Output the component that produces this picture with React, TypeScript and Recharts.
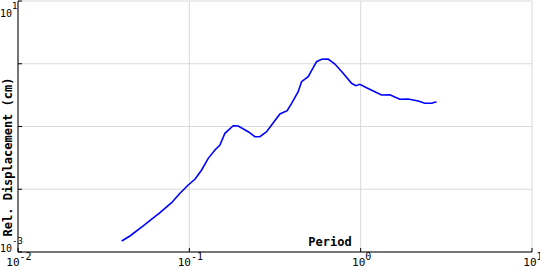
import React from "react";
import { LineChart, Line, XAxis, YAxis, CartesianGrid } from "recharts";

const periods = [
  0.0403, 0.045, 0.0538, 0.0674, 0.0788, 0.0882, 0.0985, 0.1078, 0.118, 0.1289,
  0.1411, 0.1509, 0.1613, 0.1804, 0.1929, 0.2207, 0.2414, 0.2581, 0.2825, 0.3021,
  0.3378, 0.3725, 0.3953, 0.4318, 0.4519, 0.494, 0.553, 0.5912, 0.6461, 0.7072,
  0.7903, 0.885, 0.9376, 0.989, 1.082, 1.21, 1.324, 1.48, 1.693, 1.893,
  2.165, 2.369, 2.593, 2.772,
];
const displacements = [
  0.0015, 0.0018, 0.0026, 0.00423, 0.00611, 0.00862, 0.01169, 0.01441, 0.0203, 0.0311,
  0.0422, 0.0507, 0.0779, 0.103, 0.1019, 0.0826, 0.0688, 0.0688, 0.0826, 0.1057,
  0.1582, 0.1786, 0.2343, 0.3586, 0.5176, 0.6218, 1.078, 1.177, 1.19, 0.991,
  0.7044, 0.4881, 0.4469, 0.4705, 0.4153, 0.3586, 0.3177, 0.3212, 0.2714, 0.2744,
  0.2549, 0.2343, 0.2343, 0.2484,
];
const xTicks = [0.01, 0.1, 1, 10];
const yTicks = [0.001, 0.01, 0.1, 1, 10];
const yLabelled = [0.001, 10];

const data = periods.map((p, i) => ({ period: p, disp: displacements[i] }));

const FONT = "'DejaVu Sans Mono', monospace";

const expOf = (v: number) => Math.round(Math.log10(v));

const XTick = (props: any) => {
  const { x, y, payload } = props;
  const e = expOf(payload.value);
  return (
    <g>
      <line x1={x} y1={y} x2={x} y2={y - 4} stroke="#000" strokeWidth={1} />
      <text x={x + 1} y={y + 14} textAnchor="middle" fontFamily={FONT} fill="#000">
        <tspan fontSize={11}>10</tspan>
        <tspan fontSize={10} dy={-6}>{String(e)}</tspan>
      </text>
    </g>
  );
};

const YTick = (props: any) => {
  const { x, y, payload } = props;
  const v = payload.value;
  const e = expOf(v);
  const show = yLabelled.some((t) => Math.abs(Math.log10(t) - Math.log10(v)) < 1e-6);
  const base = e === 1 ? y + 16 : y;
  return (
    <g>
      <line x1={x} y1={y} x2={x + 4} y2={y} stroke="#000" strokeWidth={1} />
      {show && (
        <text x={0} y={base} textAnchor="start" fontFamily={FONT} fill="#000">
          <tspan fontSize={10}>10</tspan>
          <tspan fontSize={9} dy={-8}>{String(e)}</tspan>
        </text>
      )}
    </g>
  );
};

export default function App() {
  return (
    <div style={{ position: "absolute", left: 0, top: 0, background: "#fff" }}>
      <LineChart
        width={540}
        height={270}
        data={data}
        margin={{ top: 1, right: 8, bottom: 0, left: 0 }}
      >
        <CartesianGrid stroke="#d9d9d9" strokeWidth={1} />
        <XAxis
          dataKey="period"
          type="number"
          scale="log"
          domain={[0.01, 10]}
          ticks={xTicks}
          allowDataOverflow
          height={18}
          tickSize={0}
          tickMargin={0}
          tickLine={false}
          axisLine={{ stroke: "#000", strokeWidth: 1 }}
          tick={<XTick />}
          interval={0}
        />
        <YAxis
          dataKey="disp"
          type="number"
          scale="log"
          domain={[0.001, 10]}
          ticks={yTicks}
          allowDataOverflow
          width={18}
          tickSize={0}
          tickMargin={0}
          tickLine={false}
          axisLine={{ stroke: "#000", strokeWidth: 1 }}
          tick={<YTick />}
          interval={0}
        />
        <Line
          type="linear"
          dataKey="disp"
          stroke="#0000ff"
          strokeWidth={1.6}
          dot={false}
          isAnimationActive={false}
        />
        <text
          x={330}
          y={246}
          textAnchor="middle"
          fontFamily={FONT}
          fontSize={12}
          fontWeight="bold"
          fill="#000"
        >
          Period
        </text>
        <text
          x={12}
          y={157}
          transform="rotate(-90 12 157)"
          textAnchor="middle"
          fontFamily={FONT}
          fontSize={12}
          fontWeight="bold"
          fill="#000"
        >
          Rel. Displacement (cm)
        </text>
      </LineChart>
    </div>
  );
}
